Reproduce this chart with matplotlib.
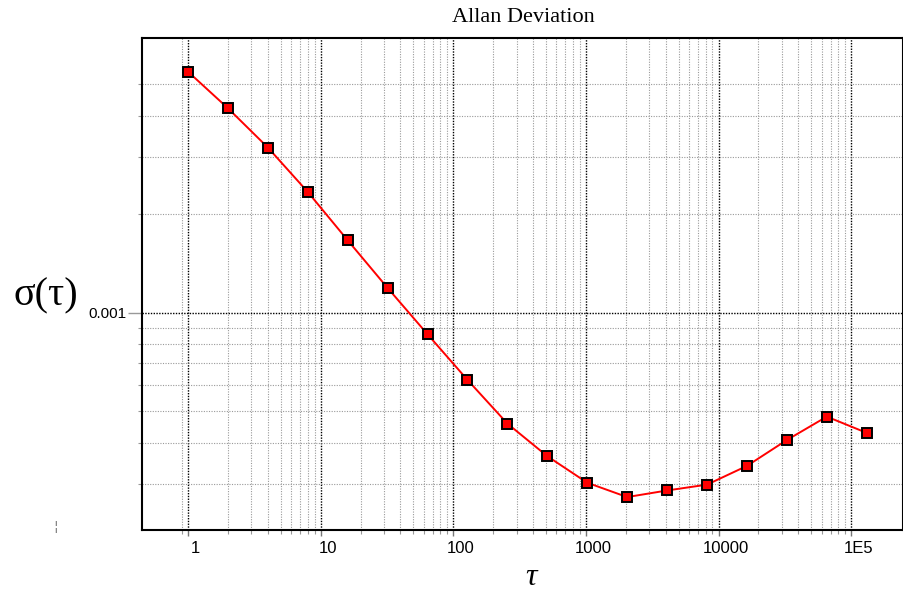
import matplotlib
matplotlib.use('Agg')
import matplotlib.pyplot as plt
import matplotlib.transforms as mtransforms
from matplotlib.ticker import FixedLocator, FixedFormatter, NullFormatter

# ---- data ----
tau = [1, 2, 4, 8, 16, 32, 64, 128, 256, 512, 1024, 2048, 4096, 8192,
       16384, 32768, 65536, 131072]
adev = [5.46e-3, 4.22e-3, 3.20e-3, 2.34e-3, 1.665e-3, 1.19e-3, 8.59e-4,
        6.23e-4, 4.58e-4, 3.64e-4, 3.02e-4, 2.73e-4, 2.86e-4, 2.98e-4,
        3.40e-4, 4.08e-4, 4.81e-4, 4.29e-4]
x_major = [1, 10, 100, 1000, 10000, 100000]
x_labels = ['1', '10', '100', '1000', '10000', '1E5']
y_major = [0.001]
y_labels = ['0.001']
title = 'Allan Deviation'
xlabel = 'τ'
ylabel = 'σ(τ)'

W, H = 904, 592
fig = plt.figure(figsize=(W / 100, H / 100), dpi=100)
ax = fig.add_axes([142 / W, (H - 530) / H, (903 - 142) / W, (530 - 38) / H])
ax.set_xscale('log')
ax.set_yscale('log')

ax.plot(tau, adev, color='red', lw=1.4, marker='s', ms=7.8, mfc='red',
        mec='black', mew=1.4, zorder=3)

ax.set_xlim(0.45, 2.46e5)
ax.set_ylim(2.165e-4, 6.92e-3)

x_minor = [0.9] + [m * 10 ** e for e in range(0, 5) for m in range(2, 10)]
y_minor = [m * 1e-4 for m in range(3, 10)] + [m * 1e-3 for m in range(2, 6)]

ax.xaxis.set_major_locator(FixedLocator(x_major))
ax.xaxis.set_major_formatter(FixedFormatter(x_labels))
ax.xaxis.set_minor_locator(FixedLocator(x_minor))
ax.xaxis.set_minor_formatter(NullFormatter())
ax.yaxis.set_major_locator(FixedLocator(y_major))
ax.yaxis.set_major_formatter(FixedFormatter(y_labels))
ax.yaxis.set_minor_locator(FixedLocator(y_minor))
ax.yaxis.set_minor_formatter(NullFormatter())

ax.grid(True, which='major', color='black', linestyle=(0, (1, 1.0)), lw=1.0,
        zorder=1)
ax.grid(True, which='minor', color='#9a9a9a', linestyle=(0, (1, 1.3)), lw=0.8,
        zorder=1)
ax.set_axisbelow(True)

for s in ax.spines.values():
    s.set_linewidth(1.5)
    s.set_color('black')

ax.tick_params(axis='x', which='major', length=4, width=1, color='#777777',
               labelsize=12, pad=4)
ax.tick_params(axis='x', which='minor', length=3, width=0.8, color='#999999')
ax.tick_params(axis='y', which='major', length=10, width=1, color='#999999',
               labelsize=11, pad=1)
ax.tick_params(axis='y', which='minor', length=3, width=0.8, color='#999999')

for lab in ax.get_xticklabels() + ax.get_yticklabels():
    lab.set_fontfamily('Liberation Sans')
offset = mtransforms.ScaledTranslation(7 / 100, 0, fig.dpi_scale_trans)
for lab in ax.get_xticklabels():
    lab.set_transform(lab.get_transform() + offset)

fig.text(523 / W, 1 - 18 / H, title, ha='center', va='center',
         fontsize=16, family='Liberation Serif')
fig.text(531 / W, 1 - 585 / H, xlabel, ha='center', va='baseline',
         fontsize=23, family='Liberation Serif', style='italic')
fig.text(46 / W, 1 - 296 / H, ylabel, ha='center', va='center',
         fontsize=29, family='Liberation Serif')
fig.text(55.7 / W, 1 - 527 / H, '¦', ha='center', va='center',
         fontsize=10, color='#777777', family='DejaVu Sans')

fig.savefig('out.png', dpi=100)
